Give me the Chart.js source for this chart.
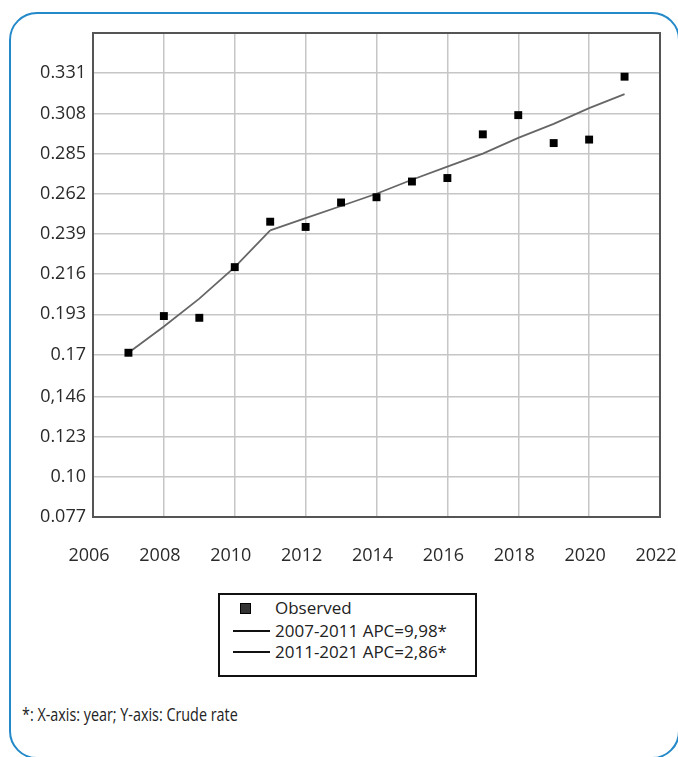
<!DOCTYPE html>
<html>
<head>
<meta charset="utf-8">
<script src="https://cdn.jsdelivr.net/npm/chart.js@4/dist/chart.umd.min.js"></script>
<style>
  html, body { margin: 0; padding: 0; background: #fff; }
  body { width: 678px; height: 757px; overflow: hidden; position: relative; font-family: "Open Sans", sans-serif; }
  #frame {
    position: absolute; left: 9px; top: 12px; width: 667px; height: 743px;
    border: 2.5px solid #2489c9; border-radius: 28px; box-sizing: content-box;
  }
  #wrap { position: absolute; left: 0; top: 0; width: 681px; height: 580px; }
  #legend {
    position: absolute; left: 218px; top: 593px; width: 255px; height: 80px;
    border: 2px solid #111; box-sizing: content-box; background: #fff;
  }
  .row { position: absolute; left: 0; height: 22px; line-height: 22px; font-size: 17px; color: #222; }
  .row span.txt { position: absolute; left: 55px; white-space: nowrap; }
  .sq { position: absolute; left: 20px; top: 6px; width: 9px; height: 9px; background: #333; border: 1px solid #000; }
  .ln { position: absolute; left: 13px; top: 10px; width: 37px; height: 2px; background: #111; }
  #note {
    position: absolute; left: 22px; top: 702px; font-size: 17.5px; color: #222; white-space: nowrap;
    transform: scaleX(0.82); transform-origin: left center;
  }
</style>
</head>
<body>
<div id="frame"></div>
<div id="wrap"><canvas id="c" width="681" height="580"></canvas></div>
<div id="legend">
  <div class="row" style="top:2px;"><div class="sq"></div><span class="txt" id="lg0"></span></div>
  <div class="row" style="top:25px;"><div class="ln"></div><span class="txt" id="lg1"></span></div>
  <div class="row" style="top:46px;"><div class="ln"></div><span class="txt" id="lg2"></span></div>
</div>
<div id="note">*: X-axis: year; Y-axis: Crude rate</div>
<script>
// Crude rate per year, with the two joinpoint trend segments
const years = [2007, 2008, 2009, 2010, 2011, 2012, 2013, 2014, 2015, 2016, 2017, 2018, 2019, 2020, 2021];
const observed = [0.171, 0.192, 0.191, 0.220, 0.246, 0.243, 0.257, 0.260, 0.269, 0.271, 0.296, 0.307, 0.291, 0.293, 0.329];

const seg1Years = [2007, 2008, 2009, 2010, 2011];
const seg1Fit = [0.171, 0.186, 0.202, 0.220, 0.241];
const seg2Years = [2011, 2012, 2013, 2014, 2015, 2016, 2017, 2018, 2019, 2020, 2021];
const seg2Fit = [0.241, 0.248, 0.255, 0.262, 0.270, 0.2775, 0.285, 0.294, 0.302, 0.311, 0.319];

const seriesNames = ['Observed', '2007-2011 APC=9,98*', '2011-2021 APC=2,86*'];

const yTickValues = [0.077, 0.10, 0.123, 0.146, 0.17, 0.193, 0.216, 0.239, 0.262, 0.285, 0.308, 0.331, 0.354];
const yTickLabels = ['0.077', '0.10', '0.123', '0,146', '0.17', '0.193', '0.216', '0.239', '0.262', '0.285', '0.308', '0.331', ''];
const xTickValues = [2006, 2008, 2010, 2012, 2014, 2016, 2018, 2020, 2022];

document.getElementById('lg0').textContent = seriesNames[0];
document.getElementById('lg1').textContent = seriesNames[1];
document.getElementById('lg2').textContent = seriesNames[2];

const pts = (xs, ys) => xs.map((x, i) => ({ x: x, y: ys[i] }));

// dark frame around the plotting area
const plotFrame = {
  id: 'plotFrame',
  afterDraw(chart) {
    const a = chart.chartArea, ctx = chart.ctx;
    ctx.save();
    ctx.strokeStyle = '#555';
    ctx.lineWidth = 2;
    ctx.strokeRect(a.left, a.top, a.right - a.left, a.bottom - a.top);
    ctx.restore();
  }
};

const tickFont = { family: '"Open Sans", sans-serif', size: 18 };

new Chart(document.getElementById('c'), {
  type: 'scatter',
  data: {
    datasets: [
      {
        label: seriesNames[0],
        data: pts(years, observed),
        pointStyle: 'rect',
        pointRadius: 5.6,
        pointHoverRadius: 5.6,
        backgroundColor: '#000',
        borderColor: '#000',
        borderWidth: 0,
        showLine: false
      },
      {
        label: seriesNames[1],
        data: pts(seg1Years, seg1Fit),
        showLine: true,
        pointRadius: 0,
        borderColor: '#666',
        borderWidth: 1.8,
        tension: 0
      },
      {
        label: seriesNames[2],
        data: pts(seg2Years, seg2Fit),
        showLine: true,
        pointRadius: 0,
        borderColor: '#666',
        borderWidth: 1.8,
        tension: 0
      }
    ]
  },
  options: {
    responsive: false,
    animation: false,
    devicePixelRatio: 1,
    layout: { padding: { top: 33, right: 21, left: 0, bottom: 0 } },
    plugins: { legend: { display: false }, tooltip: { enabled: false } },
    scales: {
      x: {
        type: 'linear',
        min: 2006,
        max: 2022,
        afterBuildTicks(s) { s.ticks = xTickValues.map(v => ({ value: v })); },
        afterFit(s) { s.height = 63; s.paddingLeft = 0; s.paddingRight = 0; },
        border: { display: false },
        grid: { color: '#c6c6c6', lineWidth: 1.5, drawTicks: false },
        ticks: {
          font: tickFont,
          color: '#2a2a2a',
          padding: 28,
          labelOffset: -4,
          maxRotation: 0,
          autoSkip: false,
          callback: v => String(v)
        }
      },
      y: {
        type: 'linear',
        min: 0.077,
        max: 0.354,
        afterBuildTicks(s) { s.ticks = yTickValues.map(v => ({ value: v })); },
        afterFit(s) { s.width = 93; s.paddingTop = 0; s.paddingBottom = 0; },
        border: { display: false },
        grid: { color: '#c6c6c6', lineWidth: 1.5, drawTicks: false },
        ticks: {
          font: tickFont,
          color: '#2a2a2a',
          padding: 7,
          autoSkip: false,
          callback: (v, i) => yTickLabels[i]
        }
      }
    }
  },
  plugins: [plotFrame]
});
</script>
</body>
</html>
